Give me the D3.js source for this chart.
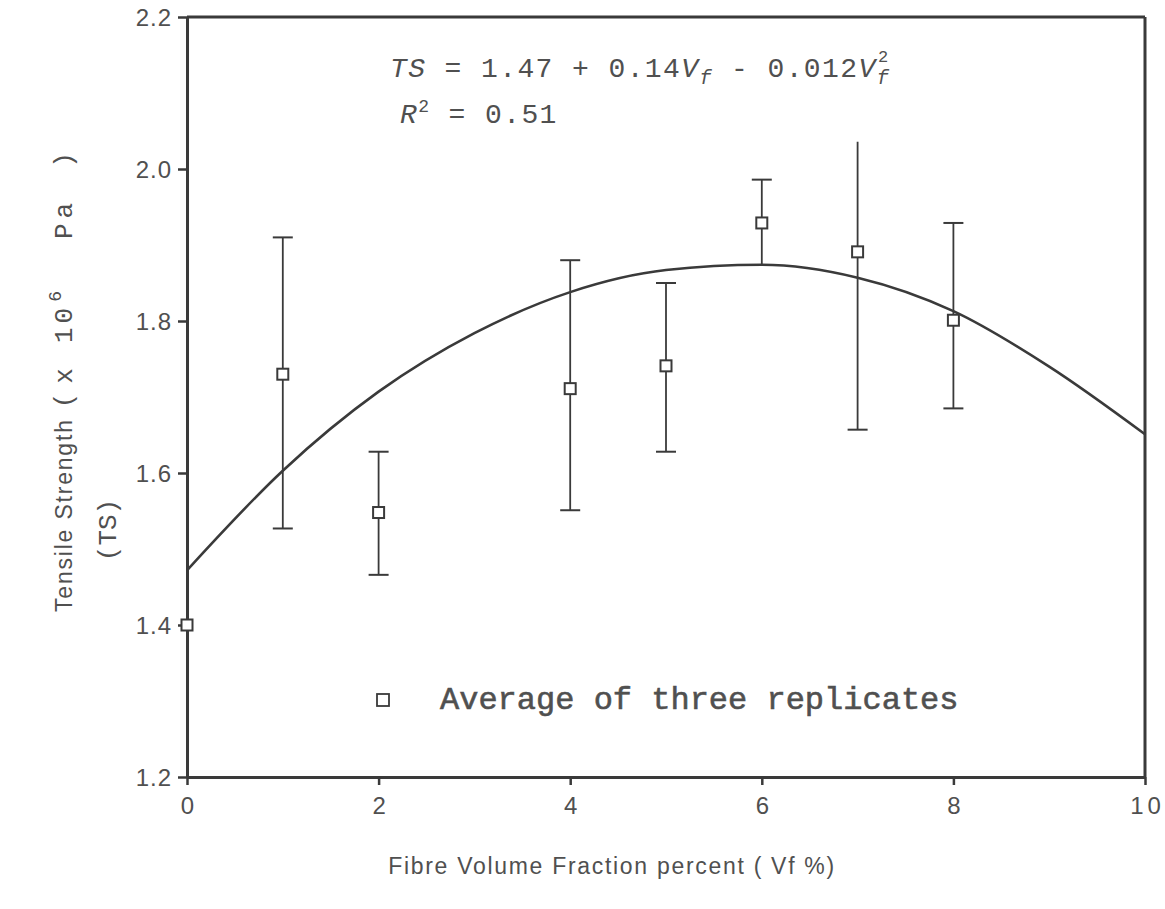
<!DOCTYPE html>
<html>
<head>
<meta charset="utf-8">
<script src="https://cdn.jsdelivr.net/npm/d3@7"></script>
<style>
  body { margin: 0; background: #fff; }
</style>
</head>
<body>
<div id="container"></div>
<script>
// values
let vf = [0, 1, 2, 4, 5, 6, 7, 8];
let tsMean = [1.40, 1.73, 1.548, 1.711, 1.741, 1.929, 1.891, 1.801];
let tsHigh = [null, 1.910, 1.628, 1.880, 1.850, 1.986, 2.036, 1.929];
let tsLow = [null, 1.527, 1.466, 1.551, 1.628, 1.873, 1.657, 1.685];
let capHigh = [false, true, true, true, true, true, false, true];
let capLow = [false, true, true, true, true, false, true, true];

// fitted curve
let fitX = [0, 1, 2, 3, 4, 5, 6, 7, 8, 9, 10];
let fitY = [1.472, 1.603, 1.707, 1.784, 1.838, 1.867, 1.874, 1.857, 1.813, 1.740, 1.651];

let xTicks = [0, 2, 4, 6, 8, 10];
let yTicks = [1.2, 1.4, 1.6, 1.8, 2.0, 2.2];

let w = 1165;
let h = 909;
let ink = "#3a3a3a";
let textInk = "#505050";
let mono = "Liberation Mono, Courier New, monospace";
let sans = "Liberation Sans, Arial, sans-serif";

let viz = d3.select("#container")
  .append("svg")
    .attr("width", w)
    .attr("height", h)
    .style("background-color", "white");

let xScale = d3.scaleLinear().domain([0, 10]).range([187, 1145]);
let yScale = d3.scaleLinear().domain([1.2, 2.2]).range([777, 17]);

// frame: top and right lines
viz.append("line")
  .attr("x1", xScale(0)).attr("x2", xScale(10))
  .attr("y1", yScale(2.2)).attr("y2", yScale(2.2))
  .attr("stroke", ink).attr("stroke-width", 3);
viz.append("line")
  .attr("x1", xScale(10)).attr("x2", xScale(10))
  .attr("y1", yScale(2.2)).attr("y2", yScale(1.2))
  .attr("stroke", ink).attr("stroke-width", 3);

// axes
let xAxisGroup = viz.append("g")
  .attr("transform", "translate(0," + yScale(1.2) + ")")
  .call(d3.axisBottom(xScale).tickValues(xTicks).tickSize(8).tickSizeOuter(0).tickPadding(12));
let yAxisGroup = viz.append("g")
  .attr("transform", "translate(" + xScale(0) + ",0)")
  .call(d3.axisLeft(yScale).tickValues(yTicks).tickFormat(d3.format(".1f")).tickSize(9).tickSizeOuter(0).tickPadding(6));

[xAxisGroup, yAxisGroup].forEach(function(g){
  g.select(".domain").attr("stroke", ink).attr("stroke-width", 3);
  g.selectAll(".tick line").attr("stroke", ink).attr("stroke-width", 2.5);
  g.selectAll(".tick text")
    .attr("fill", textInk)
    .attr("font-family", sans)
    .attr("font-size", "24px");
});
xAxisGroup.selectAll(".tick text").attr("letter-spacing", "4px").attr("dx", "2px");
yAxisGroup.selectAll(".tick text").attr("dy", "0.36em").attr("letter-spacing", "1px");

// fitted curve
let line = d3.line()
  .x(function(d, i){ return xScale(fitX[i]); })
  .y(function(d, i){ return yScale(d); })
  .curve(d3.curveMonotoneX);
viz.append("path")
  .attr("d", line(fitY))
  .attr("fill", "none")
  .attr("stroke", ink)
  .attr("stroke-width", 2.6);

// error bars
let idx = vf.map(function(d, i){ return i; }).filter(function(i){ return tsHigh[i] != null; });
let bars = viz.append("g").selectAll("g")
  .data(idx)
  .enter().append("g");
bars.append("line")
  .attr("x1", function(i){ return xScale(vf[i]); })
  .attr("x2", function(i){ return xScale(vf[i]); })
  .attr("y1", function(i){ return yScale(tsHigh[i]); })
  .attr("y2", function(i){ return yScale(tsLow[i]); })
  .attr("stroke", ink).attr("stroke-width", 1.8);
bars.filter(function(i){ return capHigh[i]; }).append("line")
  .attr("x1", function(i){ return xScale(vf[i]) - 10; })
  .attr("x2", function(i){ return xScale(vf[i]) + 10; })
  .attr("y1", function(i){ return yScale(tsHigh[i]); })
  .attr("y2", function(i){ return yScale(tsHigh[i]); })
  .attr("stroke", ink).attr("stroke-width", 2);
bars.filter(function(i){ return capLow[i]; }).append("line")
  .attr("x1", function(i){ return xScale(vf[i]) - 10; })
  .attr("x2", function(i){ return xScale(vf[i]) + 10; })
  .attr("y1", function(i){ return yScale(tsLow[i]); })
  .attr("y2", function(i){ return yScale(tsLow[i]); })
  .attr("stroke", ink).attr("stroke-width", 2);

// average markers
let sq = 11;
viz.append("g").selectAll("rect")
  .data(tsMean)
  .enter().append("rect")
    .attr("x", function(d, i){ return xScale(vf[i]) - sq/2; })
    .attr("y", function(d){ return yScale(d) - sq/2; })
    .attr("width", sq)
    .attr("height", sq)
    .attr("fill", "white")
    .attr("stroke", ink)
    .attr("stroke-width", 2);

// equation text
let eq = viz.append("text")
  .attr("x", 390).attr("y", 77)
  .attr("font-family", mono)
  .attr("font-size", "28px")
  .attr("letter-spacing", "1.4px")
  .attr("fill", textInk);
eq.append("tspan").attr("font-style", "italic").text("TS");
eq.append("tspan").text(" = 1.47 + 0.14");
eq.append("tspan").attr("font-style", "italic").text("V");
eq.append("tspan").attr("font-style", "italic").attr("font-size", "20px").attr("dy", 7).text("f");
eq.append("tspan").attr("dy", -7).text(" - 0.012");
eq.append("tspan").attr("font-style", "italic").text("V");
eq.append("tspan").attr("font-style", "italic").attr("font-size", "20px").attr("dy", 7).text("f");
eq.append("tspan").attr("font-size", "17px").attr("dx", -12).attr("dy", -22).text("2");

let r2 = viz.append("text")
  .attr("x", 400).attr("y", 123)
  .attr("font-family", mono)
  .attr("font-size", "28px")
  .attr("letter-spacing", "1.4px")
  .attr("fill", textInk);
r2.append("tspan").attr("font-style", "italic").text("R");
r2.append("tspan").attr("font-size", "18px").attr("dy", -11).text("2");
r2.append("tspan").attr("dy", 11).text(" = 0.51");

// legend
viz.append("rect")
  .attr("x", 377).attr("y", 694)
  .attr("width", 12).attr("height", 12)
  .attr("fill", "white").attr("stroke", ink).attr("stroke-width", 1.8);
viz.append("text")
  .attr("x", 440).attr("y", 709)
  .attr("font-family", mono)
  .attr("font-size", "32px")
  .attr("fill", textInk)
  .attr("stroke", textInk)
  .attr("stroke-width", 0.6)
  .text("Average of three replicates");

// axis titles
viz.append("text")
  .attr("x", 612).attr("y", 874)
  .attr("text-anchor", "middle")
  .attr("font-family", sans)
  .attr("font-size", "23px")
  .attr("letter-spacing", "1.7px")
  .attr("fill", textInk)
  .text("Fibre Volume Fraction  percent ( Vf %)");

let yl = viz.append("text")
  .attr("transform", "translate(72,612) rotate(-90)")
  .attr("fill", textInk);
yl.append("tspan")
  .attr("font-family", sans)
  .attr("font-size", "23px")
  .attr("letter-spacing", "1.8px")
  .text("Tensile Strength");
yl.append("tspan")
  .attr("font-family", mono)
  .attr("font-size", "26px")
  .attr("letter-spacing", "9px")
  .attr("dx", 10)
  .text("(x");
yl.append("tspan")
  .attr("font-family", mono)
  .attr("font-size", "26px")
  .attr("letter-spacing", "4px")
  .attr("dx", 16)
  .text("10");
yl.append("tspan")
  .attr("font-family", mono)
  .attr("font-size", "18px")
  .attr("dx", 2)
  .attr("dy", -11)
  .text("6");
yl.append("tspan")
  .attr("font-family", mono)
  .attr("font-size", "26px")
  .attr("letter-spacing", "5px")
  .attr("dy", 11)
  .attr("dx", 52)
  .text("Pa");
yl.append("tspan")
  .attr("font-family", mono)
  .attr("font-size", "26px")
  .attr("dx", 30)
  .text(")");

viz.append("text")
  .attr("transform", "translate(116,530) rotate(-90)")
  .attr("text-anchor", "middle")
  .attr("font-family", mono)
  .attr("font-size", "26px")
  .attr("fill", textInk)
  .text("(TS)");
</script>
</body>
</html>
